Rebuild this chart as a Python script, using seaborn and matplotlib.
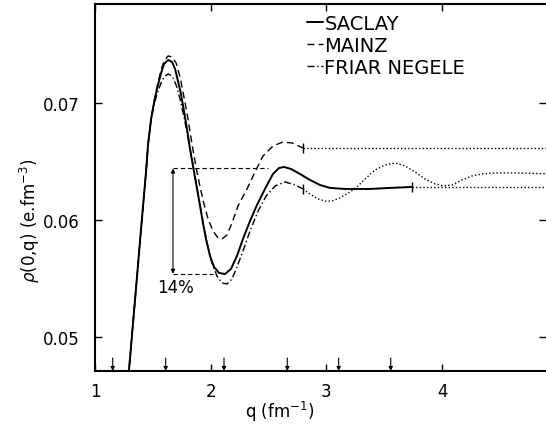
import matplotlib
matplotlib.use('Agg')
import matplotlib.pyplot as plt
import seaborn as sns

# values: q in fm^-1, rho(0,q) in e.fm^-3
saclay_q = [1.288, 1.354, 1.398, 1.441, 1.459, 1.485, 1.510, 1.536, 1.571, 1.597,
            1.632, 1.666, 1.692, 1.717, 1.743, 1.769, 1.795, 1.821, 1.856, 1.882,
            1.908, 1.933, 1.959, 1.994, 2.029, 2.072, 2.124, 2.175, 2.227, 2.279,
            2.340, 2.400, 2.469, 2.538, 2.590, 2.634, 2.694, 2.772, 2.858, 2.945,
            3.031, 3.161, 3.377, 3.550, 3.740]
saclay_rho = [0.0465, 0.05410, 0.05923, 0.06410, 0.06650, 0.06863, 0.07000, 0.07120, 0.07256, 0.07333,
              0.07368, 0.07350, 0.07291, 0.07188, 0.07077, 0.06932, 0.06778, 0.06607, 0.06410, 0.06265,
              0.06120, 0.05974, 0.05838, 0.05692, 0.05598, 0.05547, 0.05538, 0.05581, 0.05692, 0.05838,
              0.05991, 0.06128, 0.06265, 0.06393, 0.06444, 0.06453, 0.06436, 0.06393, 0.06342, 0.06299,
              0.06274, 0.06265, 0.06265, 0.06274, 0.06282]

mainz_q = [1.288, 1.354, 1.398, 1.441, 1.459, 1.485, 1.510, 1.536, 1.571, 1.597,
           1.632, 1.666, 1.701, 1.735, 1.769, 1.804, 1.838, 1.873, 1.908, 1.942,
           1.977, 2.020, 2.063, 2.098, 2.141, 2.184, 2.236, 2.314, 2.383, 2.452,
           2.538, 2.625, 2.703, 2.798]
mainz_rho = [0.0465, 0.05410, 0.05923, 0.06410, 0.06650, 0.06863, 0.07010, 0.07137, 0.07282, 0.07359,
             0.07402, 0.07393, 0.07342, 0.07222, 0.07051, 0.06863, 0.06650, 0.06453, 0.06282, 0.06137,
             0.06009, 0.05906, 0.05846, 0.05838, 0.05872, 0.05974, 0.06120, 0.06265, 0.06410, 0.06547,
             0.06632, 0.06667, 0.06658, 0.06615]

friar_q = [1.288, 1.354, 1.398, 1.441, 1.459, 1.485, 1.510, 1.536, 1.571, 1.597,
           1.632, 1.666, 1.701, 1.735, 1.769, 1.804, 1.838, 1.873, 1.908, 1.942,
           1.977, 2.011, 2.054, 2.098, 2.141, 2.184, 2.227, 2.279, 2.340, 2.410,
           2.479, 2.557, 2.643, 2.730, 2.798]
friar_rho = [0.0465, 0.05410, 0.05923, 0.06410, 0.06650, 0.06863, 0.06983, 0.07077, 0.07171, 0.07222,
             0.07248, 0.07231, 0.07154, 0.07034, 0.06880, 0.06709, 0.06521, 0.06325, 0.06128, 0.05940,
             0.05769, 0.05632, 0.05521, 0.05462, 0.05453, 0.05496, 0.05598, 0.05735, 0.05906, 0.06077,
             0.06205, 0.06291, 0.06325, 0.06299, 0.06265]

# dotted continuations beyond the measured range
saclay_tail_q = [3.740, 4.95]
saclay_tail_rho = [0.06282, 0.06282]
mainz_tail_q = [2.798, 4.95]
mainz_tail_rho = [0.06615, 0.06615]
friar_tail_q = [2.798, 2.858, 2.927, 2.988, 3.049, 3.117, 3.204, 3.264, 3.334, 3.420,
                3.507, 3.593, 3.680, 3.766, 3.853, 3.940, 4.008, 4.086, 4.172, 4.258,
                4.345, 4.457, 4.630, 4.950]
friar_tail_rho = [0.06265, 0.06222, 0.06179, 0.06162, 0.06162, 0.06188, 0.06239, 0.06282, 0.06350, 0.06427,
                  0.06470, 0.06487, 0.06462, 0.06410, 0.06350, 0.06308, 0.06291, 0.06299, 0.06342, 0.06376,
                  0.06393, 0.06402, 0.06402, 0.06393]

# small end-of-data bars
end_q = [3.740, 2.798, 2.798]
end_rho = [0.06282, 0.06615, 0.06265]

# arrows along the q axis
arrow_q = [1.153, 1.611, 2.115, 2.662, 3.106, 3.556]

# 14% marker
pct_q = 1.674
pct_top = 0.0644
pct_bottom = 0.0554
pct_top_end = 2.495
pct_bottom_end = 2.020
pct_label = '14%'

x_ticks = [1, 2, 3, 4]
x_labels = ['1', '2', '3', '4']
y_ticks = [0.05, 0.06, 0.07]
y_labels = ['0.05', '0.06', '0.07']
x_range = (1.0, 4.898)
y_range = (0.04709, 0.07846)

sns.set_theme(style='white')
plt.rcParams['font.family'] = ['DejaVu Sans']
plt.rcParams['text.color'] = 'black'
plt.rcParams['axes.labelcolor'] = 'black'

fig = plt.figure(figsize=(5.46, 4.27), dpi=100)
ax = fig.add_axes([95 / 546, 55 / 427, 451 / 546, 367 / 427])

sns.lineplot(x=saclay_q, y=saclay_rho, sort=False, estimator=None, ax=ax,
             color='black', lw=1.4, label='SACLAY')
sns.lineplot(x=mainz_q, y=mainz_rho, sort=False, estimator=None, ax=ax,
             color='black', lw=1.0, linestyle=(0, (5, 3)), label='MAINZ')
sns.lineplot(x=friar_q, y=friar_rho, sort=False, estimator=None, ax=ax,
             color='black', lw=1.0, linestyle=(0, (5, 2, 1, 2)), label='FRIAR NEGELE')

for tq, tr in [(saclay_tail_q, saclay_tail_rho), (mainz_tail_q, mainz_tail_rho),
               (friar_tail_q, friar_tail_rho)]:
    sns.lineplot(x=tq, y=tr, sort=False, estimator=None, ax=ax,
                 color='black', lw=1.0, linestyle=(0, (1, 1.6)))

ax.vlines(end_q, [r - 0.0004 for r in end_rho], [r + 0.0004 for r in end_rho],
          color='black', lw=1.0)

for q in arrow_q:
    ax.annotate('', xy=(q, y_range[0]), xytext=(q, 0.0482),
                arrowprops=dict(arrowstyle='-|>', color='black', lw=0.8,
                                mutation_scale=6, shrinkA=0, shrinkB=0))

ax.annotate('', xy=(pct_q, pct_top), xytext=(pct_q, pct_bottom),
            arrowprops=dict(arrowstyle='<|-|>', color='black', lw=0.8,
                            mutation_scale=6, shrinkA=0, shrinkB=0))
ax.hlines([pct_top, pct_bottom], pct_q, [pct_top_end, pct_bottom_end],
          color='black', lw=0.8, linestyle=(0, (4, 2.5)))
ax.text(pct_q + 0.025, pct_bottom - 0.0011, pct_label, fontsize=12,
        ha='center', va='center', color='black')

ax.set_xlim(*x_range)
ax.set_ylim(*y_range)
ax.set_xticks(x_ticks, x_labels)
ax.set_yticks(y_ticks, y_labels)
ax.tick_params(direction='in', length=5, width=1, top=True, right=True,
               bottom=True, left=True, labelsize=12, colors='black')
ax.tick_params(axis='x', pad=8)
ax.tick_params(axis='y', pad=11)
for side in ['left', 'bottom', 'top']:
    ax.spines[side].set_linewidth(1.5)
    ax.spines[side].set_color('black')
ax.spines['right'].set_visible(False)

ax.set_xlabel('q (fm$^{-1}$)', fontsize=12)
ax.set_ylabel(r'$\rho$(0,q) (e.fm$^{-3}$)', fontsize=12)
ax.xaxis.set_label_coords(0.41, -0.076)
ax.yaxis.set_label_coords(-0.118, 0.411)

leg = ax.legend(loc='upper left', bbox_to_anchor=(0.47, 0.972), frameon=False,
                fontsize=14, handlelength=0.8, handletextpad=0.1,
                borderpad=0, borderaxespad=0, labelspacing=0.15)
for t in leg.get_texts():
    t.set_color('black')

fig.savefig('out.png', dpi=100)
